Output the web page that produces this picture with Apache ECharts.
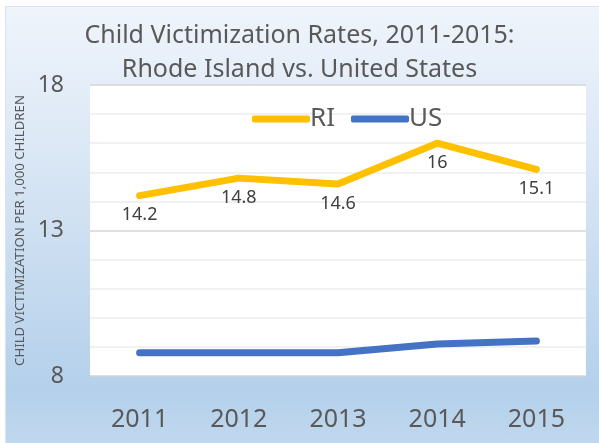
<!DOCTYPE html>
<html>
<head>
<meta charset="utf-8">
<script src="https://cdn.jsdelivr.net/npm/echarts@6/dist/echarts.min.js"></script>
<style>
html,body{margin:0;padding:0;background:#ffffff;width:599px;height:443px;overflow:hidden;}
#bg{position:absolute;left:5px;top:6px;width:594px;height:437px;
background:linear-gradient(to bottom,#eff4fb 0%,#dde9f6 30%,#c8dcf0 60%,#b4d0eb 88%,#c0d8ee 100%);
border-top:1px solid #d6e4f3;border-left:1px solid #d6e4f3;box-sizing:border-box;}
#chart{position:absolute;left:0;top:0;width:599px;height:443px;}
</style>
</head>
<body>
<div id="bg"></div>
<div id="chart"></div>
<script>
const titleLines = ["Child Victimization Rates, 2011-2015:", "Rhode Island vs. United States"];
const yAxisName = "CHILD VICTIMIZATION PER 1,000 CHILDREN";
const categories = ["2011", "2012", "2013", "2014", "2015"];
const riValues = [14.2, 14.8, 14.6, 16, 15.1];
const usValues = [8.8, 8.8, 8.8, 9.1, 9.2];
const yTickLabels = [8, 13, 18];

const chart = echarts.init(document.getElementById('chart'), null, {renderer: 'canvas'});
const textColor = '#595959';
const font = 'Noto Sans';
chart.setOption({
  backgroundColor: 'transparent',
  animation: false,
  title: {
    text: titleLines.join('\n'),
    left: 'center',
    top: 14,
    textStyle: {fontFamily: font, fontSize: 25, fontWeight: 'normal', color: textColor, lineHeight: 34}
  },
  legend: {
    left: 247,
    top: 101,
    itemWidth: 58,
    itemHeight: 7,
    itemGap: 16,
    icon: 'roundRect',
    textStyle: {fontFamily: font, fontSize: 26, color: textColor, padding: [0, 0, 0, -5]},
    data: ['RI', 'US']
  },
  grid: {left: 90, right: 13, top: 85, bottom: 67, show: true, backgroundColor: '#ffffff', borderWidth: 0},
  xAxis: {
    type: 'category',
    data: categories,
    boundaryGap: true,
    axisLine: {show: false},
    axisTick: {show: false},
    axisLabel: {fontFamily: font, fontSize: 25, color: textColor, margin: 31},
    splitLine: {show: false}
  },
  yAxis: {
    type: 'value',
    min: 8,
    max: 18,
    interval: 1,
    name: yAxisName,
    nameLocation: 'middle',
    nameRotate: 90,
    nameGap: 63,
    nameTextStyle: {fontFamily: font, fontSize: 13.2, color: textColor},
    axisLine: {show: false},
    axisTick: {show: false},
    axisLabel: {
      fontFamily: font, fontSize: 23, color: textColor, margin: 26,
      formatter: v => (yTickLabels.indexOf(v) >= 0 ? String(v) : '')
    },
    splitLine: {lineStyle: {color: ['#d4d4d4', '#ececec', '#ececec', '#ececec', '#ececec'], width: 1.5}}
  },
  series: [
    {
      name: 'RI', type: 'line', data: riValues, color: '#FFC000',
      symbol: 'circle', symbolSize: 1, showSymbol: true, itemStyle: {color: '#FFC000', borderWidth: 0},
      lineStyle: {width: 7, cap: 'round', join: 'round'},
      label: {show: true, position: 'bottom', distance: 10, fontFamily: font, fontSize: 18, color: '#404040'}
    },
    {
      name: 'US', type: 'line', data: usValues, color: '#4472C4',
      symbol: 'none', lineStyle: {width: 7, cap: 'round', join: 'round'}
    }
  ]
});
</script>
</body>
</html>
